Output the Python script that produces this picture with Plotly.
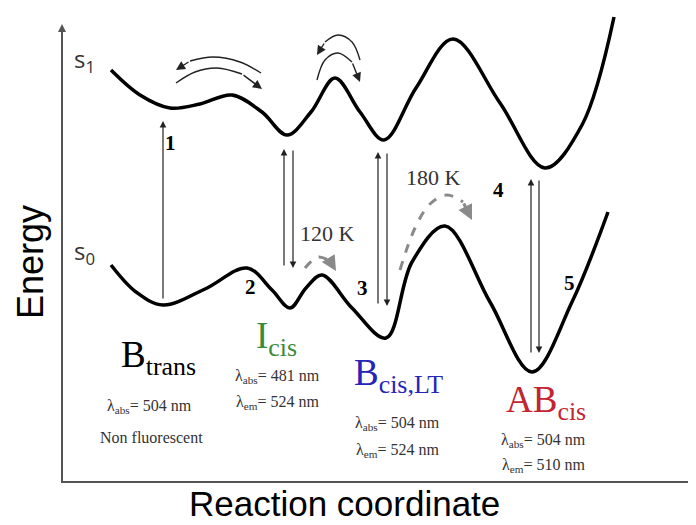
import plotly.graph_objects as go

#######################################
# Data ################################
#######################################

# Potential energy surfaces (schematic, in picture coordinates: x right, y down)
s1_x = [111, 140, 170, 200, 232, 262, 287, 311, 335, 360, 384, 416, 453, 500, 545, 582, 614]
s1_y = [70, 95, 108, 104, 95, 112, 135, 112, 78, 112, 140, 88, 39, 103, 168, 125, 17]

s0_x = [111, 136, 163, 205, 247, 272, 290, 306, 322, 352, 386, 412, 445, 490, 532, 572, 608]
s0_y = [265, 292, 305, 289, 268, 290, 308, 288, 275, 308, 338, 262, 226, 302, 372, 302, 212]

# Vertical transitions: (x, y_tail, y_head)
transitions = [
    (163, 300, 121),   # 1 absorption
    (284, 267, 149),   # up
    (293, 149, 268),   # down
    (378, 305, 152),   # up
    (387, 152, 306),   # down
    (531, 354, 179),   # up
    (539, 179, 353),   # down
]

# Curved black arrows on S1
arc_a_x = [261, 240, 213, 190, 176]
arc_a_y = [73, 62, 57, 61, 70]
arc_b_x = [176, 195, 217, 242, 262]
arc_b_y = [83, 72, 68, 74, 89]
arc_c_x = [360, 352, 338, 325, 317]
arc_c_y = [60, 42, 35, 42, 55]
arc_d_x = [317, 325, 338, 352, 360]
arc_d_y = [80, 60, 53, 62, 82]

# Thermal (dashed) arrows on S0
dash_120_x = [305, 318, 330, 336]
dash_120_y = [268, 257, 261, 271]
dash_180_x = [400, 415, 430, 447, 463, 472]
dash_180_y = [270, 228, 204, 195, 202, 220]

# Labels
numbers = [("1", 170, 143), ("2", 250, 287), ("3", 362, 288), ("4", 498, 190), ("5", 569, 283)]

states = [
    ("B<sub>trans</sub>", 158, 357, "black"),
    ("I<sub>cis</sub>", 276, 338, "#3a8a3a"),
    ("B<sub>cis,LT</sub>", 398, 375, "#2525b8"),
    ("AB<sub>cis</sub>", 546, 402, "#c42330"),
]

props = [
    ("λ<sub>abs</sub>= 504 nm", 149, 406),
    ("Non fluorescent", 151, 437),
    ("λ<sub>abs</sub>= 481 nm", 277, 376),
    ("λ<sub>em</sub>= 524 nm", 277, 402),
    ("λ<sub>abs</sub>= 504 nm", 397, 423),
    ("λ<sub>em</sub>= 524 nm", 397, 450),
    ("λ<sub>abs</sub>= 504 nm", 543, 440),
    ("λ<sub>em</sub>= 510 nm", 543, 465),
]

#######################################
# Plotting ############################
#######################################

fig = go.Figure()

serif = "Liberation Serif, Times New Roman, serif"
sans = "Liberation Sans, Arial, sans-serif"

# surfaces
for xs, ys in [(s1_x, s1_y), (s0_x, s0_y)]:
    fig.add_trace(go.Scatter(x=xs, y=ys, mode="lines", line=dict(color="black", width=3.5, shape="spline"),
                             hoverinfo="skip", showlegend=False))

# curved arrows
annotations = []
for xs, ys, col, w, dash in [(arc_a_x, arc_a_y, "#222", 1.4, "solid"), (arc_b_x, arc_b_y, "#222", 1.4, "solid"),
                             (arc_c_x, arc_c_y, "#222", 1.4, "solid"), (arc_d_x, arc_d_y, "#222", 1.4, "solid"),
                             (dash_120_x, dash_120_y, "#8a8a8a", 3, "dash"),
                             (dash_180_x, dash_180_y, "#8a8a8a", 3, "dash")]:
    fig.add_trace(go.Scatter(x=xs[:-1], y=ys[:-1], mode="lines",
                             line=dict(color=col, width=w, shape="spline", dash=dash),
                             hoverinfo="skip", showlegend=False))
    big = dash == "dash"
    annotations.append(dict(x=xs[-1], y=ys[-1], ax=xs[-2], ay=ys[-2], axref="x", ayref="y",
                            xref="x", yref="y", text="", showarrow=True, arrowhead=2,
                            arrowsize=1.0 if big else 1.3, arrowwidth=3 if big else 1.4,
                            arrowcolor=col, standoff=0))

# vertical transitions
for x, y0, y1 in transitions:
    annotations.append(dict(x=x, y=y1, ax=x, ay=y0, axref="x", ayref="y", xref="x", yref="y",
                            text="", showarrow=True, arrowhead=2, arrowsize=1.1, arrowwidth=1.2,
                            arrowcolor="#222", standoff=0))

# axes (energy axis with arrow)
annotations.append(dict(x=62, y=24, ax=62, ay=483, axref="x", ayref="y", xref="x", yref="y",
                        text="", showarrow=True, arrowhead=2, arrowsize=0.8, arrowwidth=2,
                        arrowcolor="#555", standoff=0))
fig.add_shape(type="line", x0=61, x1=700, y0=482, y1=482, line=dict(color="#555", width=2))

for t, x, y in numbers:
    annotations.append(dict(x=x, y=y, text="<b>%s</b>" % t, showarrow=False,
                            font=dict(family=serif, size=21, color="black")))

for t, x, y, c in states:
    annotations.append(dict(x=x, y=y, text=t, showarrow=False,
                            font=dict(family=serif, size=37, color=c)))

for t, x, y in props:
    annotations.append(dict(x=x, y=y, text=t, showarrow=False,
                            font=dict(family=serif, size=16, color="#333")))

annotations.append(dict(x=327, y=233, text="120 K", showarrow=False, font=dict(family=serif, size=22, color="#333")))
annotations.append(dict(x=433, y=177, text="180 K", showarrow=False, font=dict(family=serif, size=22, color="#333")))
annotations.append(dict(x=84, y=60, text="s<sub>1</sub>", showarrow=False, font=dict(family="Open Sans", size=24, color="#333")))
annotations.append(dict(x=84, y=252, text="s<sub>0</sub>", showarrow=False, font=dict(family="Open Sans", size=24, color="#333")))
annotations.append(dict(x=30, y=262, text="Energy", textangle=-90, showarrow=False,
                        font=dict(family=sans, size=36, color="black")))
annotations.append(dict(x=344, y=503, text="Reaction coordinate", showarrow=False,
                        font=dict(family=sans, size=35, color="black")))

# the page body has an 8px margin, so the axes ranges are offset by 8 to line up with the picture
fig.update_layout(
    width=696, height=525, autosize=False,
    margin=dict(l=0, r=0, t=0, b=0),
    paper_bgcolor="white", plot_bgcolor="white",
    xaxis=dict(range=[8, 704], visible=False, fixedrange=True),
    yaxis=dict(range=[533, 8], visible=False, fixedrange=True),
    annotations=annotations,
    showlegend=False,
)

fig.write_html("out.html")
